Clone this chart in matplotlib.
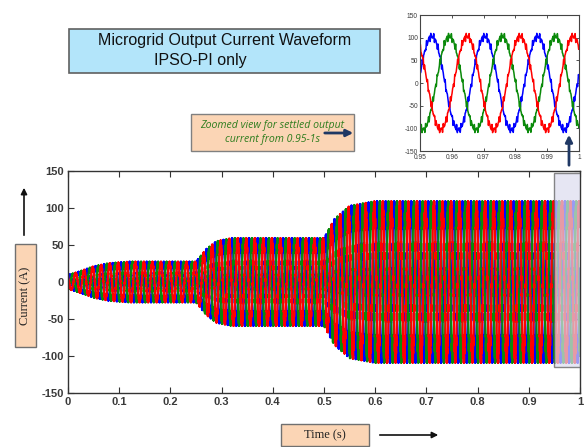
import numpy as np
import matplotlib
matplotlib.use("Agg")
import matplotlib.pyplot as plt
from matplotlib.patches import Rectangle, FancyArrowPatch

# ---------------- data ----------------
freq_hz = 60.0
phase_offset_cycles = 0.028          # blue phase at t=0 (cycles)
phase_names = ["blue", "green", "red"]
phase_colors = ["#0000ff", "#0a8a0a", "#ff0000"]
phase_shift_cycles = [0.0, -1/3, -2/3]

env_t = [0.0, 0.02, 0.05, 0.08, 0.12, 0.25, 0.27, 0.29, 0.32, 0.50, 0.52, 0.55, 0.60, 1.0]
env_a = [9, 13, 20, 24, 26, 26, 42, 52, 56, 56, 80, 97, 103, 103]

ripple_orders = [23, 37, 51]
ripple_amps = [0.04, 0.03, 0.025]   # fraction of envelope

main_xticks = [0, 0.1, 0.2, 0.3, 0.4, 0.5, 0.6, 0.7, 0.8, 0.9, 1]
main_xlabels = ["0", "0.1", "0.2", "0.3", "0.4", "0.5", "0.6", "0.7", "0.8", "0.9", "1"]
yticks = [-150, -100, -50, 0, 50, 100, 150]
ylabels = ["-150", "-100", "-50", "0", "50", "100", "150"]
inset_xticks = [0.95, 0.96, 0.97, 0.98, 0.99, 1.0]
inset_xlabels = ["0.95", "0.96", "0.97", "0.98", "0.99", "1"]
zoom_window = [0.95, 1.0]
zoom_ylim = [-115, 147]

title_lines = ["Microgrid Output Current Waveform", "IPSO-PI only"]
note_text = "Zoomed view for settled output\ncurrent from 0.95-1s"

# ---------------- waveform construction ----------------
t = np.linspace(0, 1, 40001)
env = np.interp(t, env_t, env_a)
waves = []
for sh in phase_shift_cycles:
    ph = 2 * np.pi * (freq_hz * t + phase_offset_cycles + sh)
    w = np.sin(ph)
    for o, a in zip(ripple_orders, ripple_amps):
        w = w + a * np.sin(o * ph + 1.3 * o)
    waves.append(env * w)

W, H = 587, 447
fig = plt.figure(figsize=(W / 100, H / 100), dpi=100)
fig.patch.set_facecolor("white")

def fx(x):
    return x / W

def fy(y):
    return 1 - y / H

def add_ax(x0, y0, x1, y1):
    return fig.add_axes([fx(x0), fy(y1), fx(x1 - x0), (y1 - y0) / H])

tick_col = "#3a3a3a"
sans = ["Liberation Sans", "DejaVu Sans"]
serif = ["Liberation Serif", "DejaVu Serif"]

# ---------------- main axes ----------------
ax = add_ax(68, 171, 580, 393)
for w, c in zip(waves, phase_colors):
    ax.plot(t, w, color=c, lw=1.5)
ax.set_xlim(0, 1)
ax.set_ylim(-150, 150)
ax.set_xticks(main_xticks)
ax.set_xticklabels(main_xlabels)
ax.set_yticks(yticks)
ax.set_yticklabels(ylabels)
ax.tick_params(direction="in", top=True, right=True, length=4, width=0.8,
               labelsize=8, labelcolor=tick_col, color="#333333", pad=3)
for lab in ax.get_xticklabels() + ax.get_yticklabels():
    lab.set_family(sans)
    lab.set_fontweight("bold")
for s in ax.spines.values():
    s.set_color("#333333")
    s.set_linewidth(1.0)
ax.add_patch(Rectangle((zoom_window[0], zoom_ylim[0]), zoom_window[1] - zoom_window[0],
                       zoom_ylim[1] - zoom_ylim[0], facecolor="#dcdcee", alpha=0.7,
                       edgecolor="#555555", lw=1.0, zorder=5))

# ---------------- inset ----------------
ai = add_ax(420, 15, 579, 151)
mask = (t >= zoom_window[0]) & (t <= zoom_window[1])
for w, c in zip(waves, phase_colors):
    ai.plot(t[mask], w[mask], color=c, lw=1.1)
ai.set_xlim(zoom_window)
ai.set_ylim(-150, 150)
ai.set_xticks(inset_xticks)
ai.set_xticklabels(inset_xlabels)
ai.set_yticks(yticks)
ai.set_yticklabels(ylabels)
ai.tick_params(direction="in", top=True, right=True, length=2.5, width=0.6,
               labelsize=4.8, labelcolor=tick_col, color="#333333", pad=1.5)
ai.tick_params(axis="x", pad=2.5)
for lab in ai.get_xticklabels() + ai.get_yticklabels():
    lab.set_family(sans)
for s in ai.spines.values():
    s.set_color("#444444")
    s.set_linewidth(0.8)

# ---------------- annotation boxes ----------------
def fig_box(x0, y0, x1, y1, fc, ec="#707070", lw=1.0):
    fig.patches.append(Rectangle((fx(x0), fy(y1)), fx(x1 - x0), (y1 - y0) / H,
                                 transform=fig.transFigure, facecolor=fc,
                                 edgecolor=ec, lw=lw, zorder=10))

fig_box(69, 29, 380, 73, "#b3e5fa", ec="#606060", lw=1.2)
fig.text(fx(225), fy(41), title_lines[0], ha="center", va="center",
         fontsize=11.5, family=sans, color="#111111", zorder=11)
fig.text(fx(200), fy(60), title_lines[1], ha="center", va="center",
         fontsize=11.5, family=sans, color="#111111", zorder=11)

fig_box(191, 114, 354, 151, "#fbd5b5", ec="#808080")
fig.text(fx(272.5), fy(132.5), note_text, ha="center", va="center",
         fontsize=7.6, family=["Open Sans", "DejaVu Sans"], style="italic",
         color="#2e7d1e", linespacing=1.3, zorder=11)

fig_box(15, 244, 36, 347, "#fbd5b5", ec="#707070")
fig.text(fx(25.5), fy(295.5), "Current (A)", ha="center", va="center", rotation=90,
         fontsize=9, family=serif, color="#222222", zorder=11)

fig_box(281, 424, 369, 446, "#fbd5b5", ec="#707070")
fig.text(fx(325), fy(435), "Time (s)", ha="center", va="center",
         fontsize=9, family=serif, color="#222222", zorder=11)

def fig_arrow(x0, y0, x1, y1, color, lw=1.5, ms=10):
    fig.patches.append(FancyArrowPatch((fx(x0), fy(y0)), (fx(x1), fy(y1)),
                                       transform=fig.transFigure, arrowstyle="-|>",
                                       mutation_scale=ms, color=color, lw=lw, zorder=12))

fig_arrow(24, 238, 24, 185, "#111111", lw=1.2, ms=9)
fig_arrow(377, 435, 441, 435, "#111111", lw=1.2, ms=9)
fig_arrow(322, 133, 356, 133, "#1f3864", lw=2.0, ms=10)
fig_arrow(569, 168, 569, 132, "#1f3864", lw=2.0, ms=10)

fig.savefig("out.png", dpi=100, facecolor="white")
